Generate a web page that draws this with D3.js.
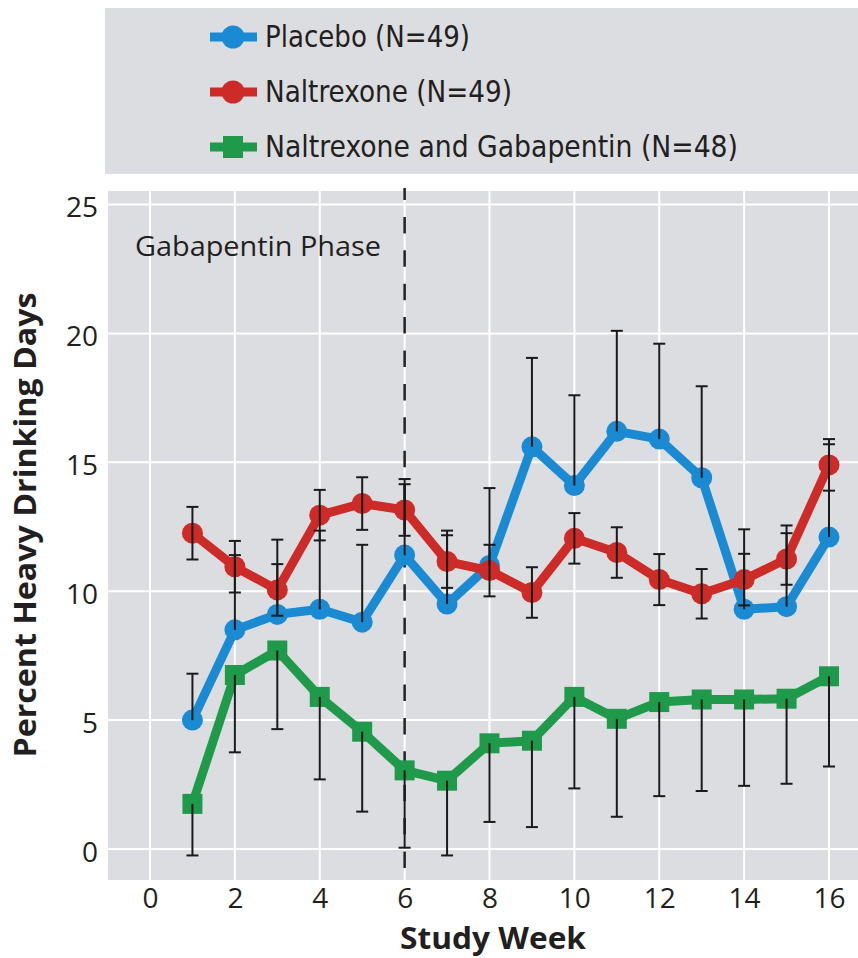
<!DOCTYPE html>
<html>
<head>
<meta charset="utf-8">
<script src="https://cdn.jsdelivr.net/npm/d3@7"></script>
<style>
  html, body { margin: 0; padding: 0; background: #ffffff; }
  svg { display: block; }
</style>
</head>
<body>
<svg id="chart" width="858" height="958"></svg>
<script>
// ---------------- data ----------------
const weeks = [1, 2, 3, 4, 5, 6, 7, 8, 9, 10, 11, 12, 13, 14, 15, 16];
const placebo = [5.0, 8.5, 9.1, 9.3, 8.8, 11.4, 9.5, 11.0, 15.6, 14.1, 16.2, 15.9, 14.4, 9.3, 9.4, 12.1];
const placeboErrUp = [1.8, 2.9, 2.9, 3.05, 3.0, 2.95, 2.85, 3.0, 3.45, 3.5, 3.9, 3.7, 3.55, 3.1, 3.15, 3.6];
const naltrexone = [12.25, 10.95, 10.05, 12.95, 13.4, 13.15, 11.15, 10.8, 9.95, 12.05, 11.5, 10.45, 9.9, 10.45, 11.25, 14.9];
const naltrexoneErr = [1.02, 1.0, 1.0, 0.98, 1.02, 1.0, 1.02, 1.0, 0.98, 0.98, 0.98, 0.99, 0.96, 1.0, 1.0, 1.0];
const combo = [1.75, 6.75, 7.7, 5.9, 4.55, 3.05, 2.65, 4.1, 4.2, 5.9, 5.05, 5.7, 5.8, 5.8, 5.83, 6.7];
const comboErrDown = [2.0, 3.0, 3.05, 3.2, 3.1, 3.0, 2.9, 3.05, 3.35, 3.55, 3.8, 3.65, 3.55, 3.35, 3.3, 3.5];

const seriesNames = ["Placebo (N=49)", "Naltrexone (N=49)", "Naltrexone and Gabapentin (N=48)"];
const xTicks = [0, 2, 4, 6, 8, 10, 12, 14, 16];
const yTicks = [0, 5, 10, 15, 20, 25];
const phaseWeek = 6;
const phaseLabel = "Gabapentin Phase";
const xTitle = "Study Week";
const yTitle = "Percent Heavy Drinking Days";

// ---------------- layout ----------------
const colors = ["#1a8bd2", "#cc2b28", "#1f9a4b"];
const bg = "#dcdde1";
const textColor = "#231f20";
const plot = { left: 108, top: 191, right: 858, bottom: 880 };

const svg = d3.select("#chart");

const x = d3.scaleLinear().domain([0, 16]).range([150, 829]);
const y = d3.scaleLinear().domain([0, 25]).range([849, 204.5]);

// legend box
svg.append("rect")
  .attr("x", 105).attr("y", 8)
  .attr("width", 858 - 105).attr("height", 166)
  .attr("fill", bg);

const legendRows = [47, 102, 157];
const legendWidths = [205, 247, 473];
seriesNames.forEach((name, i) => {
  const cy = legendRows[i] - 10;
  const g = svg.append("g");
  g.append("line")
    .attr("x1", 210).attr("x2", 257)
    .attr("y1", cy).attr("y2", cy)
    .attr("stroke", colors[i]).attr("stroke-width", 9);
  if (i < 2) {
    g.append("circle").attr("cx", 233).attr("cy", cy).attr("r", 11.5).attr("fill", colors[i]);
  } else {
    g.append("rect").attr("x", 233 - 10).attr("y", cy - 11).attr("width", 20).attr("height", 22).attr("fill", colors[i]);
  }
  g.append("text")
    .attr("x", 265).attr("y", legendRows[i])
    .attr("font-family", "'Liberation Sans Narrow', 'DejaVu Sans Condensed', 'Roboto', sans-serif")
    .attr("font-size", 30)
    .attr("fill", textColor)
    .attr("textLength", legendWidths[i])
    .attr("lengthAdjust", "spacingAndGlyphs")
    .text(name);
});

// plot background
svg.append("rect")
  .attr("x", plot.left).attr("y", plot.top)
  .attr("width", plot.right - plot.left).attr("height", plot.bottom - plot.top)
  .attr("fill", bg);

// gridlines
const grid = svg.append("g").attr("stroke", "#ffffff").attr("stroke-width", 2);
grid.selectAll("line.v").data(xTicks).join("line")
  .attr("class", "v")
  .attr("x1", d => x(d)).attr("x2", d => x(d))
  .attr("y1", plot.top).attr("y2", plot.bottom);
grid.selectAll("line.h").data(yTicks).join("line")
  .attr("class", "h")
  .attr("x1", plot.left).attr("x2", plot.right)
  .attr("y1", d => y(d)).attr("y2", d => y(d));

// axes (labels only)
const yAxisG = svg.append("g")
  .attr("transform", `translate(${plot.left},0)`)
  .call(d3.axisLeft(y).tickValues(yTicks).tickSize(0).tickPadding(10));
yAxisG.select(".domain").remove();
yAxisG.selectAll("text")
  .attr("font-family", "'Open Sans', sans-serif")
  .attr("font-size", 28)
  .attr("fill", textColor)
  .attr("dy", "0.43em");

const xAxisG = svg.append("g")
  .attr("transform", `translate(0,${plot.bottom})`)
  .call(d3.axisBottom(x).tickValues(xTicks).tickSize(0).tickPadding(8));
xAxisG.select(".domain").remove();
xAxisG.selectAll("text")
  .attr("font-family", "'Open Sans', sans-serif")
  .attr("font-size", 28)
  .attr("fill", textColor);

// axis titles
svg.append("text")
  .attr("transform", `translate(36,525) rotate(-90)`)
  .attr("text-anchor", "middle")
  .attr("font-family", "'Open Sans', sans-serif")
  .attr("font-weight", "bold")
  .attr("font-size", 30)
  .attr("fill", textColor)
  .attr("textLength", 465)
  .attr("lengthAdjust", "spacingAndGlyphs")
  .text(yTitle);

svg.append("text")
  .attr("x", 493).attr("y", 949)
  .attr("text-anchor", "middle")
  .attr("font-family", "'Open Sans', sans-serif")
  .attr("font-weight", "bold")
  .attr("font-size", 30)
  .attr("fill", textColor)
  .attr("textLength", 186)
  .attr("lengthAdjust", "spacingAndGlyphs")
  .text(xTitle);

// phase annotation
svg.append("text")
  .attr("x", 135).attr("y", 256)
  .attr("font-family", "'Open Sans', sans-serif")
  .attr("font-size", 28)
  .attr("fill", textColor)
  .attr("textLength", 246)
  .attr("lengthAdjust", "spacingAndGlyphs")
  .text(phaseLabel);

svg.append("line")
  .attr("x1", x(phaseWeek)).attr("x2", x(phaseWeek))
  .attr("y1", 188).attr("y2", plot.bottom)
  .attr("stroke", "#231f20").attr("stroke-width", 2.5)
  .attr("stroke-dasharray", "16.5,16.9")
  .attr("stroke-dashoffset", 4.5);

// series
const line = d3.line().x(d => x(d[0])).y(d => y(d[1]));
const series = [placebo, naltrexone, combo];
const order = [2, 0, 1];
order.forEach(i => {
  const pts = weeks.map((w, k) => [w, series[i][k]]);
  svg.append("path")
    .datum(pts)
    .attr("d", line)
    .attr("fill", "none")
    .attr("stroke", colors[i])
    .attr("stroke-width", 9)
    .attr("stroke-linejoin", "round");
  if (i < 2) {
    svg.append("g").selectAll("circle").data(pts).join("circle")
      .attr("cx", d => x(d[0])).attr("cy", d => y(d[1])).attr("r", 10.5)
      .attr("fill", colors[i]);
  } else {
    svg.append("g").selectAll("rect").data(pts).join("rect")
      .attr("x", d => x(d[0]) - 10).attr("y", d => y(d[1]) - 10)
      .attr("width", 20).attr("height", 20)
      .attr("fill", colors[i]);
  }
});

// error bars
const errG = svg.append("g").attr("stroke", "#1a1a1a").attr("stroke-width", 2);
function errBar(w, lo, hi, capLo, capHi) {
  const cx = x(w);
  errG.append("line").attr("x1", cx).attr("x2", cx).attr("y1", y(lo)).attr("y2", y(hi));
  if (capLo) errG.append("line").attr("x1", cx - 6).attr("x2", cx + 6).attr("y1", y(lo)).attr("y2", y(lo));
  if (capHi) errG.append("line").attr("x1", cx - 6).attr("x2", cx + 6).attr("y1", y(hi)).attr("y2", y(hi));
}
weeks.forEach((w, k) => {
  errBar(w, placebo[k], placebo[k] + placeboErrUp[k], false, true);
  errBar(w, naltrexone[k] - naltrexoneErr[k], naltrexone[k] + naltrexoneErr[k], true, true);
  errBar(w, combo[k] - comboErrDown[k], combo[k], true, false);
});
</script>
</body>
</html>
